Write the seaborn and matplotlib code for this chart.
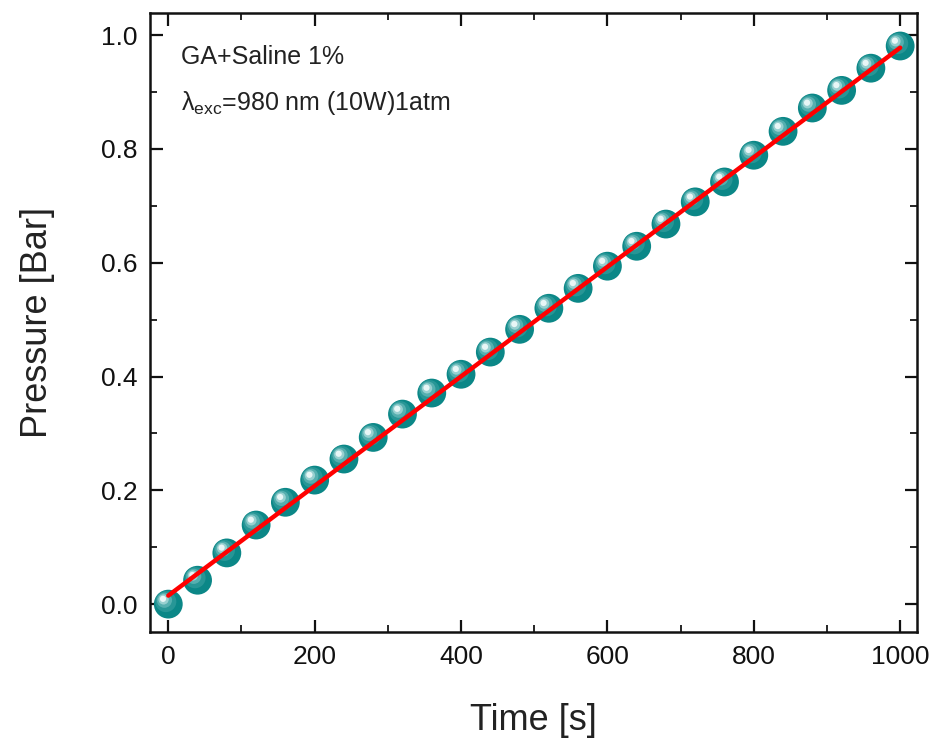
import numpy as np
import pandas as pd
import matplotlib
matplotlib.use("Agg")
import matplotlib.pyplot as plt
import matplotlib.transforms as mtransforms
from matplotlib.ticker import MultipleLocator, FormatStrFormatter
import seaborn as sns

# ---- data ----
time_s = [0, 40, 80, 120, 160, 200, 240, 280, 320, 360, 400, 440, 480, 520,
          560, 600, 640, 680, 720, 760, 800, 840, 880, 920, 960, 1000]
pressure_bar = [0.000, 0.042, 0.090, 0.139, 0.179, 0.218, 0.255, 0.293, 0.334,
                0.371, 0.404, 0.443, 0.483, 0.520, 0.555, 0.594, 0.629, 0.668,
                0.707, 0.742, 0.789, 0.831, 0.872, 0.903, 0.942, 0.981]
fit_time = [0, 1000]
fit_pressure = [0.015, 0.978]

df = pd.DataFrame({"Time": time_s, "Pressure": pressure_bar})
fit_df = pd.DataFrame({"Time": fit_time, "Pressure": fit_pressure})

sns.set_style("ticks")
plt.rcParams["font.family"] = ["Liberation Sans", "DejaVu Sans"]
plt.rcParams["mathtext.fontset"] = "custom"
plt.rcParams["mathtext.rm"] = "Liberation Sans"
plt.rcParams["mathtext.it"] = "Liberation Sans:italic"

fig = plt.figure(figsize=(9.33, 7.45), dpi=100)
ax = fig.add_axes([150 / 933, 1 - 632 / 745, (917 - 150) / 933, (632 - 13) / 745])

# sphere-like markers: base + layered highlights
sns.scatterplot(data=df, x="Time", y="Pressure", ax=ax, s=430, color="#0b8787",
                edgecolor="none", linewidth=0, legend=False, zorder=3)
layers = [(230, "#279696", -1.8, 1.8), (120, "#55afaf", -2.8, 2.8),
          (55, "#98d0d0", -3.4, 3.4), (20, "#e8f6f6", -3.8, 3.8)]
for s, c, dx, dy in layers:
    tr = mtransforms.offset_copy(ax.transData, fig=fig, x=dx, y=dy, units="points")
    ax.scatter(df["Time"], df["Pressure"], s=s, color=c, edgecolor="none",
               transform=tr, zorder=4)

sns.lineplot(data=fit_df, x="Time", y="Pressure", ax=ax, color="#ff0000",
             linewidth=3.2, zorder=5)

ax.set_xlim(-25, 1023)
ax.set_ylim(-0.049, 1.039)
ax.xaxis.set_major_locator(MultipleLocator(200))
ax.xaxis.set_minor_locator(MultipleLocator(100))
ax.yaxis.set_major_locator(MultipleLocator(0.2))
ax.yaxis.set_minor_locator(MultipleLocator(0.1))
ax.yaxis.set_major_formatter(FormatStrFormatter("%.1f"))

for sp in ax.spines.values():
    sp.set_visible(True)
    sp.set_linewidth(1.8)
    sp.set_color("#111111")

ax.tick_params(which="major", direction="in", length=9, width=1.6,
               top=True, right=True, labelsize=19, pad=9, colors="#111111")
ax.tick_params(which="minor", direction="in", length=5, width=1.4,
               top=True, right=True)

ax.set_xlabel("Time [s]", fontsize=26, color="#222222")
ax.set_ylabel("Pressure [Bar]", fontsize=26, color="#222222")
ax.xaxis.set_label_coords(0.5, -0.115)
ax.yaxis.set_label_coords(-0.124, 0.5)

ax.text(0.04, 0.948, "GA+Saline 1%", transform=ax.transAxes, fontsize=18,
        va="top", ha="left", color="#222222")
ax.text(0.04, 0.878, "λ$_{\\mathrm{exc}}$=980 nm (10W)1atm", transform=ax.transAxes,
        fontsize=18, va="top", ha="left", color="#222222")

fig.savefig("out.png", dpi=100)
